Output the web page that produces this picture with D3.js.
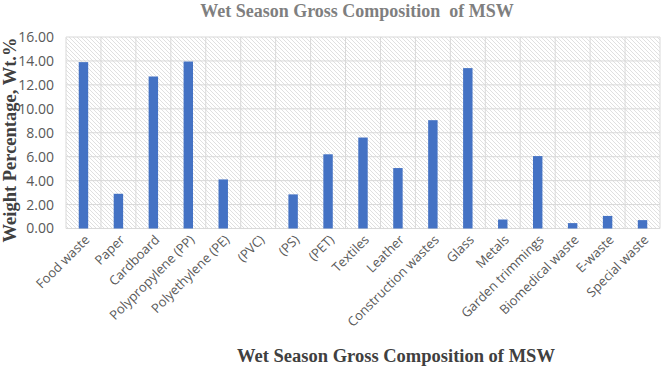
<!DOCTYPE html>
<html><head><meta charset="utf-8">
<script src="https://cdn.jsdelivr.net/npm/d3@7"></script>
<style>body{margin:0;background:#fff}svg{display:block}</style>
</head><body>
<script>
const categories = ["Food waste","Paper","Cardboard","Polypropylene (PP)","Polyethylene (PE)","(PVC)","(PS)","(PET)","Textiles","Leather","Construction wastes","Glass","Metals","Garden trimmings","Biomedical waste","E-waste","Special waste"];
const values = [13.9,2.9,12.7,13.95,4.1,0,2.85,6.2,7.6,5.05,9.05,13.4,0.75,6.05,0.45,1.05,0.7];
const yTicks = [0,2,4,6,8,10,12,14,16];
const chartTitle = "Wet Season Gross Composition  of MSW";
const xTitle = "Wet Season Gross Composition of MSW";
const yTitle = "Weight Percentage, Wt.%";

const W=661,H=370;
const m={l:66,r:1,t:37,b:141.5};
const svg=d3.select("body").append("svg").attr("width",W).attr("height",H);
const defs=svg.append("defs");
const pat=defs.append("pattern").attr("id","hatch").attr("patternUnits","userSpaceOnUse").attr("width",4).attr("height",4);
pat.append("rect").attr("width",4).attr("height",4).attr("fill","#fff");
pat.append("path").attr("d","M-1,-1L5,5M-1,3L1,5M3,-1L5,1").attr("stroke","#dcdcdc").attr("stroke-width",0.9);

const x=d3.scaleBand().domain(categories).range([m.l,W-m.r]).padding(0);
const y=d3.scaleLinear().domain([0,16]).range([H-m.b,m.t]);

svg.append("rect").attr("x",m.l).attr("y",m.t).attr("width",W-m.r-m.l).attr("height",H-m.b-m.t).attr("fill","url(#hatch)");

// grid
svg.append("g").selectAll("line").data(yTicks).join("line")
 .attr("x1",m.l).attr("x2",W-m.r).attr("y1",d=>y(d)).attr("y2",d=>y(d))
 .attr("stroke","#d9d9d9").attr("stroke-width",1);
const bounds=categories.map(c=>x(c)).concat([x(categories[categories.length-1])+x.bandwidth()]);
svg.append("g").selectAll("line").data(bounds).join("line")
 .attr("x1",d=>d).attr("x2",d=>d).attr("y1",m.t).attr("y2",H-m.b)
 .attr("stroke","#d9d9d9").attr("stroke-width",1);

// bars
const bw=x.bandwidth()*0.27;
svg.append("g").selectAll("rect").data(values).join("rect")
 .attr("x",(d,i)=>x(categories[i])+x.bandwidth()/2-bw/2)
 .attr("width",bw)
 .attr("y",d=>y(d)).attr("height",d=>y(0)-y(d))
 .attr("fill","#4472C4");

// y axis
const ya=svg.append("g").attr("transform",`translate(${m.l},0)`)
 .call(d3.axisLeft(y).tickValues(yTicks).tickFormat(d3.format(".2f")).tickSize(0).tickPadding(12));
ya.select(".domain").remove();
ya.selectAll("text").attr("font-family","Open Sans, sans-serif").attr("font-size",14).attr("fill","#595959");

// x axis
const xa=svg.append("g").attr("transform",`translate(0,${H-m.b})`)
 .call(d3.axisBottom(x).tickSize(0).tickPadding(0));
xa.select(".domain").remove();
xa.selectAll("text").attr("font-family","Open Sans, sans-serif").attr("font-size",13).attr("fill","#595959")
 .attr("text-anchor","end").attr("dy",0)
 .attr("transform","translate(7,12) rotate(-45)");

// titles
svg.append("text").attr("x",357).attr("y",17).attr("text-anchor","middle")
 .attr("font-family","Liberation Serif, serif").attr("font-weight","bold").attr("font-size",18)
 .attr("fill","#7f7f7f").style("white-space","pre").text(chartTitle);
svg.append("text").attr("x",396).attr("y",362).attr("text-anchor","middle")
 .attr("font-family","Liberation Serif, serif").attr("font-weight","bold").attr("font-size",18.5)
 .attr("fill","#404040").text(xTitle);
svg.append("text").attr("transform","translate(16,140) rotate(-90)").attr("text-anchor","middle")
 .attr("font-family","Liberation Serif, serif").attr("font-weight","bold").attr("font-size",18.5)
 .attr("fill","#404040").text(yTitle);
</script>
</body></html>
